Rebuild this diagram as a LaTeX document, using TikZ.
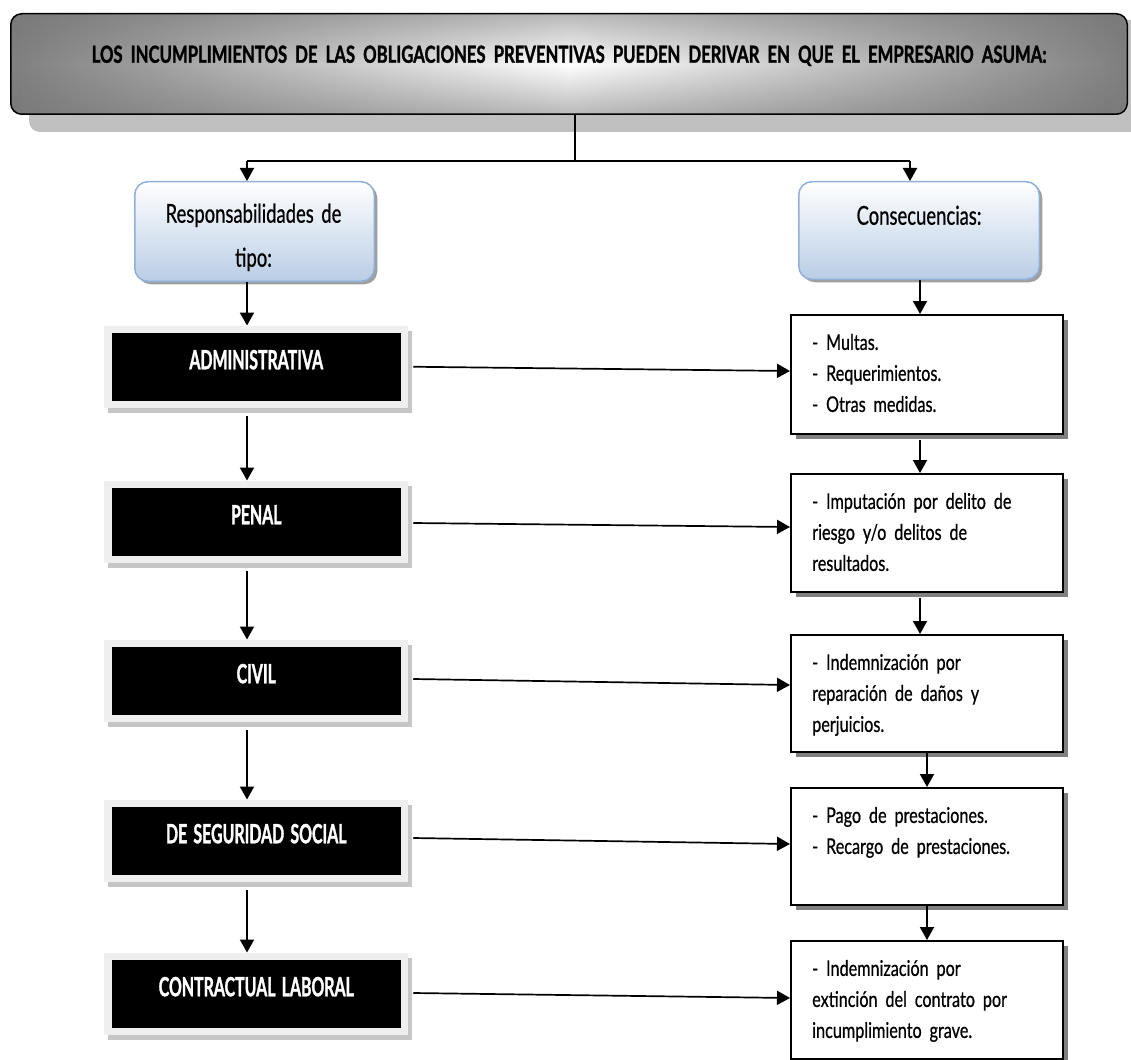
\documentclass[tikz,border=0pt]{standalone}
\usepackage{fontspec}
\newfontfamily\gs[FakeStretch=0.75,FakeBold=0.6,WordSpace=1.9]{Lato}
\newfontfamily\gsh[FakeStretch=0.71,FakeBold=0.6,WordSpace=1.6]{Lato}
\newfontfamily\gsb[FakeStretch=0.6,FakeBold=1.2,WordSpace=1.6]{Lato Bold}
\newfontfamily\gst[FakeStretch=0.71,FakeBold=1.3,WordSpace=2.0]{Lato Bold}
\usetikzlibrary{arrows.meta,shadows,fadings}
\definecolor{edgegray}{HTML}{7F7F7F}
\definecolor{bannershadow}{HTML}{C0C0C0}
\definecolor{framegray}{HTML}{EFEFEF}
\definecolor{frameshadow}{HTML}{C6C6C6}
\definecolor{bluefill}{HTML}{B9CDE5}
\definecolor{blueline}{HTML}{8EB0DA}
\definecolor{boxshadow}{HTML}{808080}
\tikzfading[name=bandfade, top color=transparent!50, bottom color=transparent!50, middle color=transparent!100]
\begin{document}
\begin{tikzpicture}[x=1pt,y=-1pt,
  arr/.style={-{Triangle[width=14pt,length=13pt]}, line width=2pt},
  harr/.style={-{Triangle[width=14pt,length=13pt]}, line width=1.7pt},
  banner/.style={draw=black, line width=1.5pt, rounded corners=11pt,
    left color=edgegray, right color=edgegray, middle color=white,
    minimum width=1116.5pt, minimum height=100.5pt, inner sep=0pt,
    text height=49pt, text depth=51.5pt,
    font=\gst\fontsize{23.5}{27}\selectfont,
    path picture={\fill[black!55, path fading=bandfade]
      (path picture bounding box.south west) rectangle (path picture bounding box.north east);}},
  headbox/.style={draw=blueline, line width=1.5pt, rounded corners=13pt,
    top color=white, bottom color=bluefill, inner sep=0pt,
    drop shadow={shadow xshift=3pt, shadow yshift=-3pt, fill=gray!75, opacity=1}},
  headtext/.style={anchor=north, inner sep=0pt, align=center,
    font=\gsh\fontsize{26}{44}\selectfont},
  respbox/.style={fill=black, draw=framegray, line width=7.5pt,
    minimum width=296.5pt, minimum height=75pt, inner ysep=0pt,
    text height=40pt, text depth=35pt, text=white,
    font=\gsb\fontsize{26.5}{30}\selectfont,
    drop shadow={shadow xshift=4pt, shadow yshift=-5pt, fill=frameshadow,
      draw=frameshadow, line width=7.5pt, opacity=1}},
  consbox/.style={draw=black, fill=white, line width=2pt, minimum width=272pt,
    inner sep=0pt,
    drop shadow={shadow xshift=5pt, shadow yshift=-5pt, fill=boxshadow, opacity=1}},
  constext/.style={anchor=north west, inner sep=0pt, align=left,
    font=\gs\fontsize{21.6}{31}\selectfont}
]
\useasboundingbox (0,0) rectangle (1131,1059);

% title banner with its shadow
\fill[bannershadow, rounded corners=11pt] (29,20) rectangle (1145,132);
\node[banner] (title) at (569,64)
  {LOS INCUMPLIMIENTOS DE LAS OBLIGACIONES PREVENTIVAS PUEDEN DERIVAR EN QUE EL EMPRESARIO ASUMA:};

% column headers
\node[headbox, minimum width=239.5pt, minimum height=99.5pt] (resp) at (254.5,231.5) {};
\node[headtext] (resptext) at ([shift={(-1,10.7)}]resp.north) {\strut Responsabilidades de\\tipo:};
\node[headbox, minimum width=240.5pt, minimum height=97.5pt] (cons) at (919,230.5) {};
\node[headtext] (constitle) at ([shift={(0,12.7)}]cons.north) {\strut Consecuencias:};

% types of responsibility
\node[respbox] (adm) at (256.25,366.75) {ADMINISTRATIVA};
\node[respbox] (pen) at (256.25,521.75) {PENAL};
\node[respbox] (civ) at (256.25,680.75) {CIVIL};
\node[respbox] (seg) at (256.25,840.75) {DE SEGURIDAD SOCIAL};
\node[respbox] (con) at (256.25,993.75) {CONTRACTUAL LABORAL};

% consequences
\node[consbox, minimum height=119pt] (mul) at (927,374.5) {};
\node[constext] (multxt) at ([shift={(22,14)}]mul.north west)
  {\strut - Multas.\\- Requerimientos.\\- Otras medidas.};
\node[consbox, minimum height=118pt] (imp) at (927,533) {};
\node[constext] (imptxt) at ([shift={(22,14)}]imp.north west)
  {\strut - Imputación por delito de\\riesgo y/o delitos de\\resultados.};
\node[consbox, minimum height=117pt] (ind) at (927,693.5) {};
\node[constext] (indtxt) at ([shift={(22,14)}]ind.north west)
  {\strut - Indemnización por\\reparación de daños y\\perjuicios.};
\node[consbox, minimum height=117pt] (pag) at (927,846.5) {};
\node[constext] (pagtxt) at ([shift={(22,14)}]pag.north west)
  {\strut - Pago de prestaciones.\\- Recargo de prestaciones.};
\node[consbox, minimum height=118pt] (ext) at (927,1000) {};
\node[constext] (exttxt) at ([shift={(22,14)}]ext.north west)
  {\strut - Indemnización por\\extinción del contrato por\\incumplimiento grave.};

% split from the banner
\coordinate (split) at (575,161);
\coordinate (lx) at (247,161);
\coordinate (rx) at (910,161);
\coordinate (cx1) at (920,0);
\coordinate (cx2) at (927,0);
\draw[line width=1.3pt] (title.south -| split) -- (split);
\draw[line width=2pt] (lx) -- (rx);
\draw[arr] (lx) -- (lx |- resp.north);
\draw[arr] (rx) -- (rx |- cons.north);

% left column
\draw[arr] (resp.south -| lx) -- (adm.north -| lx);
\draw[arr] ([yshift=-8pt]adm.south -| lx) -- (pen.north -| lx);
\draw[arr] ([yshift=-8pt]pen.south -| lx) -- (civ.north -| lx);
\draw[arr] ([yshift=-8pt]civ.south -| lx) -- (seg.north -| lx);
\draw[arr] ([yshift=-8pt]seg.south -| lx) -- (con.north -| lx);

% right column
\draw[arr] (cons.south -| cx1) -- (mul.north -| cx1);
\draw[arr] ([yshift=-5pt]mul.south -| cx1) -- (imp.north -| cx1);
\draw[arr] ([yshift=-5pt]imp.south -| cx1) -- (ind.north -| cx1);
\draw[arr] (ind.south -| cx2) -- (pag.north -| cx2);
\draw[arr] (pag.south -| cx2) -- (ext.north -| cx2);

% responsibility to consequence
\draw[harr] ([shift={(5,0)}]adm.east) -- ([shift={(0,-3.5)}]mul.west);
\draw[harr] ([shift={(5,1.25)}]pen.east) -- ([shift={(0,-6)}]imp.west);
\draw[harr] ([shift={(5,-1.75)}]civ.east) -- ([shift={(0,-8.5)}]ind.west);
\draw[harr] ([shift={(5,-2.75)}]seg.east) -- ([shift={(0,-2.5)}]pag.west);
\draw[harr] ([shift={(5,-0.75)}]con.east) -- ([shift={(0,-2)}]ext.west);
\end{tikzpicture}
\end{document}
